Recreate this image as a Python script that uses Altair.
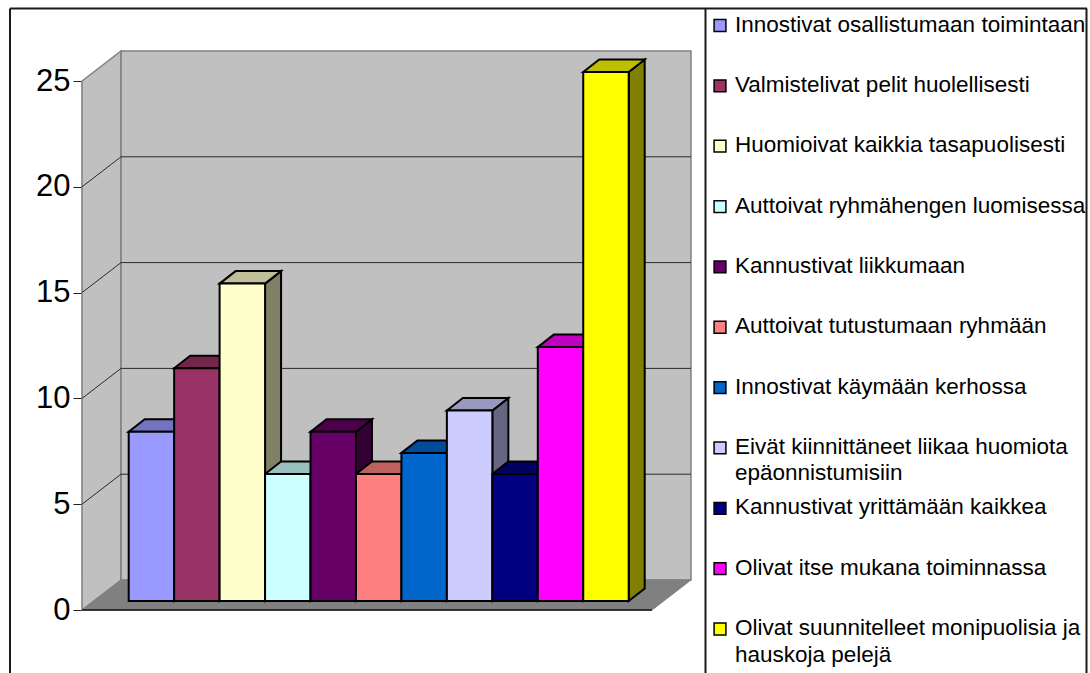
import altair as alt
import pandas as pd

categories = [
    "Innostivat osallistumaan toimintaan",
    "Valmistelivat pelit huolellisesti",
    "Huomioivat kaikkia tasapuolisesti",
    "Auttoivat ryhmähengen luomisessa",
    "Kannustivat liikkumaan",
    "Auttoivat tutustumaan ryhmään",
    "Innostivat käymään kerhossa",
    "Eivät kiinnittäneet liikaa huomiota\nepäonnistumisiin",
    "Kannustivat yrittämään kaikkea",
    "Olivat itse mukana toiminnassa",
    "Olivat suunnitelleet monipuolisia ja\nhauskoja pelejä",
]
values = [8, 11, 15, 6, 8, 6, 7, 9, 6, 12, 25]
front_colors = ["#9999FF", "#993366", "#FFFFCC", "#CCFFFF", "#660066", "#FF8080",
                "#0066CC", "#CCCCFF", "#000080", "#FF00FF", "#FFFF00"]
top_colors = ["#7373BF", "#73264C", "#BFBF99", "#99BFBF", "#4C004C", "#BF6060",
              "#004C99", "#9999BF", "#000060", "#BF00BF", "#BFBF00"]
side_colors = ["#4C4C80", "#4C1933", "#808066", "#668080", "#330033", "#804040",
               "#003366", "#666680", "#000040", "#800080", "#808000"]
y_ticks = [0, 5, 10, 15, 20, 25]

FONT = "Liberation Sans"

# Projection constants, in axis units: x counts bar widths, y counts chart values.
BAR_BASE = 0.425      # bars stand a little behind the front edge of the floor
BAR_DX, BAR_DY = 0.352, 0.59
WALL_DY = 1.418
WALL_LEFT, WALL_BACK = -1.027, -0.169
FLOOR_FRONT_END, FLOOR_BACK_END = 11.513, 12.37

x_scale = alt.Scale(domain=[0, 11], range=[128.7, 628.7], nice=False, zero=False)
y_scale = alt.Scale(domain=[0, 25], range=[610, 81], nice=False, zero=False)


def X(field="x"):
    return alt.X(f"{field}:Q", scale=x_scale, axis=None)


def Y(field="y", axis=None):
    return alt.Y(f"{field}:Q", scale=y_scale, axis=axis)


def area_layer(rows, **style):
    return alt.Chart(pd.DataFrame(rows)).mark_area(orient="vertical", **style).encode(
        x=X(), y=Y("y"), y2=alt.Y2("y2:Q"),
        detail="face:N", color=alt.Color("fill:N", scale=None),
    )


WALL_FILL = "#C0C0C0"
left_wall = [
    {"face": "left", "fill": WALL_FILL, "x": WALL_LEFT, "y": 25, "y2": 0},
    {"face": "left", "fill": WALL_FILL, "x": WALL_BACK, "y": 25 + WALL_DY, "y2": WALL_DY},
]
back_wall = [
    {"face": "back", "fill": WALL_FILL, "x": WALL_BACK, "y": 25 + WALL_DY, "y2": WALL_DY},
    {"face": "back", "fill": WALL_FILL, "x": FLOOR_BACK_END, "y": 25 + WALL_DY, "y2": WALL_DY},
]
floor = [
    {"face": "floor", "fill": "#808080", "x": WALL_LEFT, "y": 0, "y2": 0},
    {"face": "floor", "fill": "#808080", "x": WALL_BACK, "y": WALL_DY, "y2": 0},
    {"face": "floor", "fill": "#808080", "x": FLOOR_FRONT_END, "y": WALL_DY, "y2": 0},
    {"face": "floor", "fill": "#808080", "x": FLOOR_BACK_END, "y": WALL_DY, "y2": WALL_DY},
]

walls = alt.layer(
    area_layer(left_wall, stroke="#808080", strokeWidth=1.5),
    area_layer(back_wall, stroke="#808080", strokeWidth=1.5),
    area_layer(floor, stroke="#808080", strokeWidth=1),
)

# Gridlines run along the left wall, then across the back wall.
grid_rows = []
for t in y_ticks[1:-1]:
    grid_rows += [
        {"tick": t, "x": WALL_LEFT, "y": t},
        {"tick": t, "x": WALL_BACK, "y": t + WALL_DY},
        {"tick": t, "x": FLOOR_BACK_END, "y": t + WALL_DY},
    ]
gridlines = alt.Chart(pd.DataFrame(grid_rows)).mark_line(color="#2a2a2a", strokeWidth=1).encode(
    x=X(), y=Y(), detail="tick:N",
)

# Axis drawn on a rule-free layer so that its domain sits at the wall's front edge.
axis = alt.Chart(pd.DataFrame({"y": y_ticks})).mark_point(opacity=0).encode(
    y=Y(axis=alt.Axis(
        values=y_ticks, offset=-82, grid=False, title=None, orient="left",
        domainColor="#222222", domainWidth=1.2, tickColor="#222222", tickSize=9, tickWidth=1,
        labelFont=FONT, labelFontSize=31, labelColor="black", labelPadding=3,
    )),
)
front_edge = alt.Chart(pd.DataFrame({"x": [WALL_LEFT], "x2": [FLOOR_FRONT_END], "y": [0]})).mark_rule(
    color="#111111", strokeWidth=1.5
).encode(x=X(), x2="x2:Q", y=Y())

sides, tops, fronts = [], [], []
for i, v in enumerate(values):
    top = v + BAR_BASE
    sides += [
        {"face": i, "fill": side_colors[i], "x": i + 1, "y": top, "y2": BAR_BASE},
        {"face": i, "fill": side_colors[i], "x": i + 1 + BAR_DX, "y": top + BAR_DY, "y2": BAR_BASE + BAR_DY},
    ]
    tops += [
        {"face": i, "fill": top_colors[i], "x": i, "y": top, "y2": top},
        {"face": i, "fill": top_colors[i], "x": i + BAR_DX, "y": top + BAR_DY, "y2": top},
        {"face": i, "fill": top_colors[i], "x": i + 1, "y": top + BAR_DY, "y2": top},
        {"face": i, "fill": top_colors[i], "x": i + 1 + BAR_DX, "y": top + BAR_DY, "y2": top + BAR_DY},
    ]
    fronts.append({"i": i, "fill": front_colors[i], "x": i, "x2": i + 1, "y": top, "y2": BAR_BASE})

side_faces = area_layer(sides, stroke="black", strokeWidth=2)
top_faces = area_layer(tops, stroke="black", strokeWidth=2)
front_faces = alt.Chart(pd.DataFrame(fronts)).mark_rect(stroke="black", strokeWidth=2).encode(
    x=X(), x2="x2:Q", y=Y(), y2="y2:Q", color=alt.Color("fill:N", scale=None),
)

# Legend column: one row per category, evenly spaced.
legend_df = pd.DataFrame({
    "row": list(range(len(categories))),
    "label": [c.split("\n") for c in categories],
    "fill": front_colors,
})
row_scale = alt.Scale(domain=[0, 10], range=[25.5, 629], nice=False, zero=False)
swatches = alt.Chart(legend_df).mark_square(size=140, stroke="black", strokeWidth=1.5, opacity=1).encode(
    x=alt.value(720),
    y=alt.Y("row:Q", scale=row_scale, axis=None),
    color=alt.Color("fill:N", scale=None),
)
labels = alt.Chart(legend_df).mark_text(
    align="left", baseline="top", dy=-12, font=FONT, fontSize=22.5, lineHeight=26.5, color="black",
).encode(
    x=alt.value(735),
    y=alt.Y("row:Q", scale=row_scale, axis=None),
    text="label:N",
)


def frame_rule(**enc):
    return alt.Chart().mark_rule(color="#1a1a1a", strokeWidth=2).encode(**enc)


frame = alt.layer(
    frame_rule(x=alt.value(10), y=alt.value(8.5), y2=alt.value(673)),
    frame_rule(x=alt.value(10), x2=alt.value(1087), y=alt.value(8.5)),
    frame_rule(x=alt.value(1086.5), y=alt.value(8.5), y2=alt.value(673)),
    frame_rule(x=alt.value(705.5), y=alt.value(8.5), y2=alt.value(673)),
)

chart = alt.layer(
    walls, gridlines, front_edge, axis, side_faces, top_faces, front_faces, frame, swatches, labels,
).resolve_scale(x="independent", y="independent", color="independent").properties(
    width=1090, height=673, padding=0, autosize=alt.AutoSizeParams(type="none"), background="white",
).configure_view(stroke=None)

chart.save("out.html", embed_options={"renderer": "svg", "actions": False})
